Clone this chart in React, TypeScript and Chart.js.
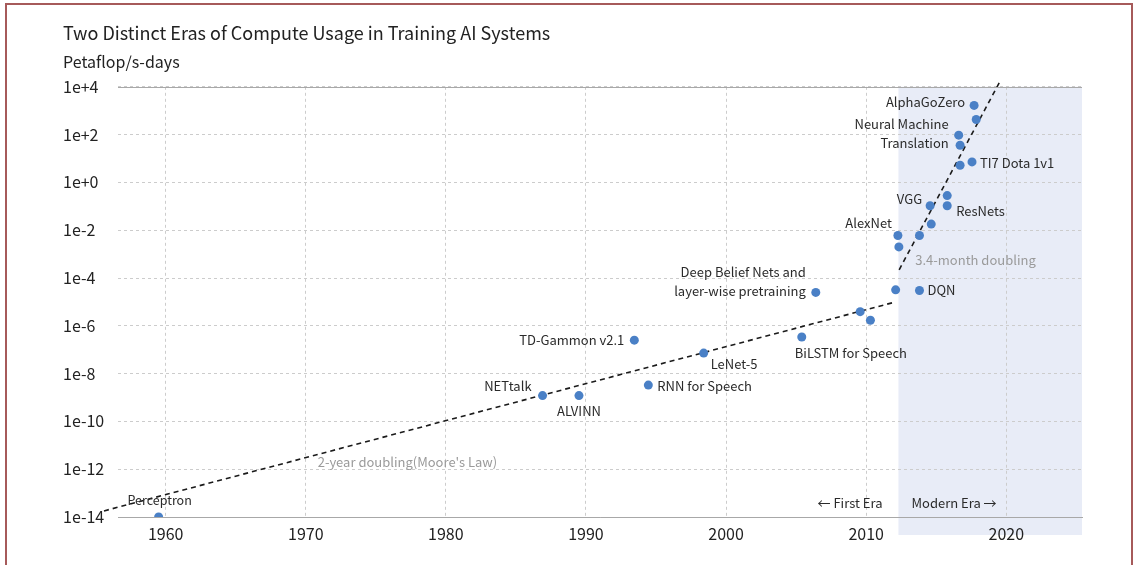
import React, { useEffect, useRef } from "react";
import { Chart, registerables } from "chart.js";

Chart.register(...registerables);

const FONT = "'Noto Sans CJK KR', 'Noto Sans', sans-serif";

const chartTitle = "Two Distinct Eras of Compute Usage in Training AI Systems";
const yAxisTitle = "Petaflop/s-days";

// Systems (year, petaflop/s-days)
const systemNames = [
  "Perceptron",
  "NETtalk",
  "ALVINN",
  "TD-Gammon v2.1",
  "RNN for Speech",
  "LeNet-5",
  "BiLSTM for Speech",
  "Deep Belief Nets and\nlayer-wise pretraining",
  "",
  "",
  "",
  "DQN",
  "AlexNet",
  "",
  "",
  "",
  "VGG",
  "ResNets",
  "",
  "TI7 Dota 1v1",
  "",
  "",
  "Neural Machine\nTranslation",
  "AlphaGoZero",
  "",
];
const systemYears = [
  1959.5, 1986.9, 1989.5, 1993.45, 1994.45, 1998.4, 2005.4, 2006.4, 2009.57, 2010.3,
  2012.1, 2013.8, 2012.26, 2012.33, 2013.8, 2014.64, 2014.56, 2015.78, 2015.78, 2017.55,
  2016.7, 2016.7, 2016.6, 2017.7, 2017.85,
];
const systemCompute = [
  1e-14, 1.2e-9, 1.2e-9, 2.5e-7, 3.3e-9, 7.2e-8, 3.4e-7, 2.5e-5, 3.9e-6, 1.7e-6,
  3.2e-5, 3.0e-5, 6.0e-3, 2.0e-3, 6.0e-3, 1.8e-2, 0.105, 0.105, 0.28, 7.2,
  5.2, 36, 95, 1660, 430,
];

// Trend lines (endpoints)
const firstEraTrendYears = [1955.6, 2012.1];
const firstEraTrendCompute = [1.8e-14, 1.0e-5];
const modernEraTrendYears = [2012.35, 2019.5];
const modernEraTrendCompute = [2.2e-4, 1.5e4];

const modernEraStartYear = 2012.3;

const xTickValues = [1960, 1970, 1980, 1990, 2000, 2010, 2020];
const yTickExponents = [-14, -12, -10, -8, -6, -4, -2, 0, 2, 4];
const yTickLabels = ["1e-14", "1e-12", "1e-10", "1e-8", "1e-6", "1e-4", "1e-2", "1e+0", "1e+2", "1e+4"];

// label placement relative to each point (pixels)
const labelLayout: Record<string, { dx: number; dy: number; align: CanvasTextAlign; size?: number }> = {
  Perceptron: { dx: 1, dy: -17, align: "center", size: 12.5 },
  NETtalk: { dx: -11, dy: -10, align: "right" },
  ALVINN: { dx: 0, dy: 15, align: "center" },
  "TD-Gammon v2.1": { dx: -10, dy: 0, align: "right" },
  "RNN for Speech": { dx: 9, dy: 1, align: "left" },
  "LeNet-5": { dx: 7, dy: 11, align: "left" },
  "BiLSTM for Speech": { dx: -7, dy: 16, align: "left" },
  "Deep Belief Nets and\nlayer-wise pretraining": { dx: -10, dy: -20, align: "right" },
  DQN: { dx: 8, dy: 0, align: "left" },
  AlexNet: { dx: -6, dy: -12, align: "right" },
  VGG: { dx: -8, dy: -7, align: "right" },
  ResNets: { dx: 9, dy: 5, align: "left" },
  "TI7 Dota 1v1": { dx: 8, dy: 1, align: "left" },
  "Neural Machine\nTranslation": { dx: -10, dy: -11, align: "right" },
  AlphaGoZero: { dx: -9, dy: -3, align: "right" },
};

const trendNotes = [
  { text: "2-year doubling(Moore's Law)", year: 1970.85, value: 1.9e-12, size: 13 },
  { text: "3.4-month doubling", year: 2013.5, value: 5.8e-4, size: 13 },
];

const eraNotes = [
  { text: "\u2190 First Era", dx: -16, align: "right" as CanvasTextAlign },
  { text: "Modern Era \u2192", dx: 13, align: "left" as CanvasTextAlign },
];

const annotationPlugin = {
  id: "annotations",
  beforeDraw(chart: any) {
    const { ctx, chartArea, scales } = chart;
    const x0 = scales.x.getPixelForValue(modernEraStartYear);
    ctx.save();
    ctx.fillStyle = "#e8ecf7";
    ctx.fillRect(x0, chartArea.top, chartArea.right - x0, chartArea.bottom + 18 - chartArea.top);
    ctx.restore();
  },
  afterDatasetsDraw(chart: any) {
    const { ctx, chartArea, scales } = chart;
    const { x, y } = scales;
    ctx.save();
    ctx.textBaseline = "middle";
    systemNames.forEach((name, i) => {
      if (!name) return;
      const lay = labelLayout[name];
      if (!lay) return;
      const px = x.getPixelForValue(systemYears[i]);
      const py = y.getPixelForValue(systemCompute[i]);
      ctx.font = `${lay.size || 13}px ${FONT}`;
      ctx.fillStyle = "#2a2a2a";
      ctx.textAlign = lay.align;
      name.split("\n").forEach((line, k) => {
        ctx.fillText(line, px + lay.dx, py + lay.dy + k * 19);
      });
    });
    trendNotes.forEach((n) => {
      ctx.font = `${n.size}px ${FONT}`;
      ctx.fillStyle = "#9a9a9a";
      ctx.textAlign = "left";
      ctx.fillText(n.text, x.getPixelForValue(n.year), y.getPixelForValue(n.value));
    });
    const bx = x.getPixelForValue(modernEraStartYear);
    eraNotes.forEach((n) => {
      ctx.font = `13px ${FONT}`;
      ctx.fillStyle = "#2a2a2a";
      ctx.textAlign = n.align;
      ctx.fillText(n.text, bx + n.dx, chartArea.bottom - 14);
    });
    ctx.restore();
  },
  afterDraw(chart: any) {
    const { ctx, chartArea } = chart;
    ctx.save();
    ctx.strokeStyle = "#a8a8a8";
    ctx.lineWidth = 1;
    ctx.beginPath();
    ctx.moveTo(chartArea.left, Math.round(chartArea.top) + 0.5);
    ctx.lineTo(chartArea.right, Math.round(chartArea.top) + 0.5);
    ctx.stroke();
    ctx.restore();
  },
};

export default function App() {
  const canvasRef = useRef<HTMLCanvasElement | null>(null);

  useEffect(() => {
    if (!canvasRef.current) return;
    Chart.defaults.font.family = FONT;
    const points = systemYears.map((yr, i) => ({ x: yr, y: systemCompute[i] }));
    const firstEra = firstEraTrendYears.map((yr, i) => ({ x: yr, y: firstEraTrendCompute[i] }));
    const modernEra = modernEraTrendYears.map((yr, i) => ({ x: yr, y: modernEraTrendCompute[i] }));

    const chart = new Chart(canvasRef.current, {
      type: "scatter",
      data: {
        datasets: [
          {
            data: points,
            backgroundColor: "#4a80c6",
            borderWidth: 0,
            pointRadius: 4.5,
            pointHoverRadius: 4.5,
          },
          {
            data: firstEra,
            showLine: true,
            borderColor: "#1a1a1a",
            borderWidth: 1.6,
            borderDash: [5, 4],
            pointRadius: 0,
            clip: false,
          } as any,
          {
            data: modernEra,
            showLine: true,
            borderColor: "#1a1a1a",
            borderWidth: 1.6,
            borderDash: [5, 4],
            pointRadius: 0,
            clip: false,
          } as any,
        ],
      },
      options: {
        responsive: false,
        animation: false,
        events: [],
        layout: { padding: { top: 12, left: 63, right: 52, bottom: 8 } },
        plugins: {
          legend: { display: false },
          tooltip: { enabled: false },
          title: {
            display: true,
            text: chartTitle,
            align: "start",
            color: "#222",
            font: { size: 18, weight: "normal", family: FONT },
            padding: { top: 10, bottom: 0 },
          },
          subtitle: {
            display: true,
            text: yAxisTitle,
            align: "start",
            color: "#222",
            font: { size: 16, weight: "normal", family: FONT },
            padding: { top: 9, bottom: 15 },
          },
        },
        scales: {
          x: {
            type: "linear",
            min: 1956.6,
            max: 2025.4,
            afterBuildTicks: (s: any) => {
              s.ticks = xTickValues.map((v) => ({ value: v }));
            },
            afterFit: (s: any) => {
              s.height = 40;
            },
            ticks: {
              callback: (v: any) => String(v),
              padding: 7,
              color: "#222",
              font: { size: 16 },
              maxRotation: 0,
              autoSkip: false,
            },
            grid: { color: "#cccccc", drawTicks: false, lineWidth: 1 },
            border: { display: true, color: "#a8a8a8", width: 1, dash: [3, 3] },
          },
          y: {
            type: "logarithmic",
            min: 1e-14,
            max: 1e4,
            afterBuildTicks: (s: any) => {
              s.ticks = yTickExponents.map((e) => ({ value: Math.pow(10, e) }));
            },
            afterFit: (s: any) => {
              s.width = 55;
            },
            ticks: {
              callback: (_v: any, idx: number) => yTickLabels[idx],
              crossAlign: "far",
              padding: 0,
              color: "#222",
              font: { size: 16 },
              autoSkip: false,
            },
            grid: { color: "#cccccc", drawTicks: false, lineWidth: 1 },
            border: { display: false, dash: [3, 3] },
          },
        },
      } as any,
      plugins: [annotationPlugin],
    });
    return () => chart.destroy();
  }, []);

  return (
    <div style={{ position: "fixed", left: 0, top: 0, width: 1134, height: 565, background: "#fff", overflow: "hidden" }}>
      <canvas ref={canvasRef} width={1134} height={565} style={{ position: "absolute", left: 0, top: 0 }} />
      <div
        style={{
          position: "absolute",
          left: 5,
          top: 3,
          width: 1128,
          height: 620,
          boxSizing: "border-box",
          border: "2px solid #a65a5a",
          pointerEvents: "none",
        }}
      />
    </div>
  );
}
